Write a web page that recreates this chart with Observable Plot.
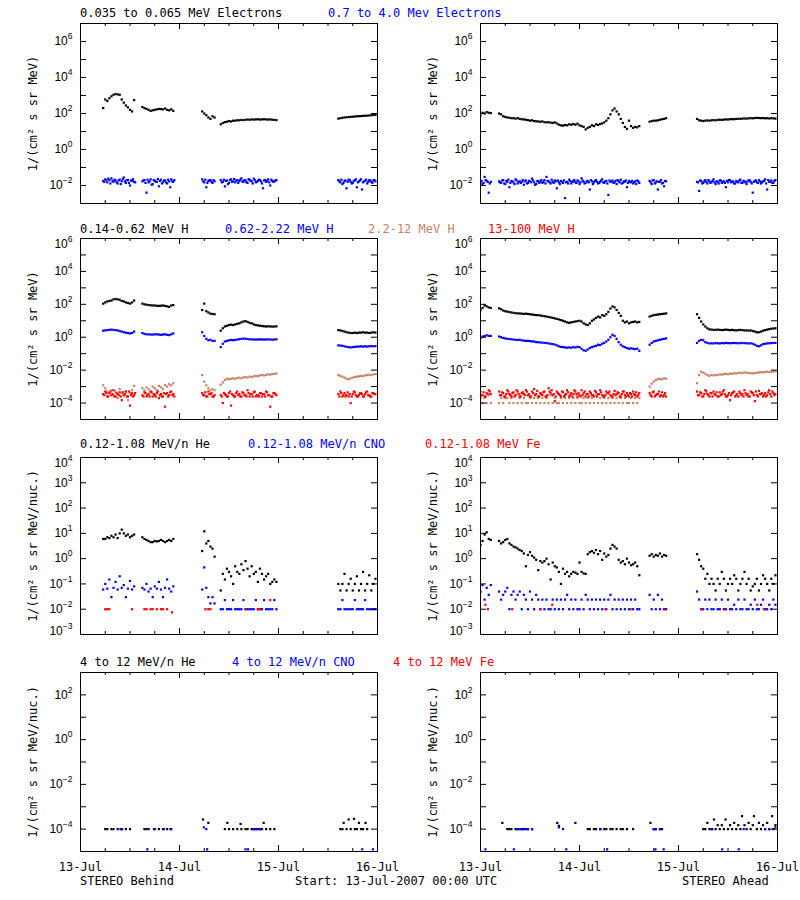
<!DOCTYPE html>
<html><head><meta charset="utf-8">
<script src="https://cdn.jsdelivr.net/npm/d3@7"></script>
<script src="https://cdn.jsdelivr.net/npm/@observablehq/plot@0.6"></script>
<style>
html,body{margin:0;padding:0;background:#fff;overflow:hidden;}
#chart{position:relative;width:800px;height:900px;background:#fff;font-family:"DejaVu Sans Mono",monospace;font-size:12px;color:#000;}
.t{position:absolute;white-space:pre;line-height:14px;font-size:12px;}
</style></head>
<body><div id="chart"></div>
<script>
// ---------- time base ----------
const T0 = Date.UTC(2007, 6, 13);           // 13-Jul-2007 00:00 UTC
const STEP = 0.5;                            // hours between samples inside a segment

// ---------- STEREO Behind : row 1 (electrons) ----------
const behindElecLo = [
  [5.5, [200, 600, 500, 700, 900, 1100, 1200, 1150, 1100, 600, 400, 280, 220, 160, 130, 550]],
  [15, [230, 200, 180, 160, 140, 150, 160, 170, 180, 175, 170, 190, 160, 150, 170, 140]],
  [29.5, [130, 100, 80, 60, 50, 70, 60]],
  [34, [25, 30, 33, 35, 38, 36, 40, 40, 42, 42, 44, 43, 45, 46, 45, 47, 46, 47, 48, 46, 47, 48, 47, 46, 47, 45, 44, 43]],
  [62.5, [52, 55, 58, 60, 62, 63, 65, 66, 68, 70, 71, 72, 74, 75, 76, 78, 80, 82, 84]]
];
const behindElecHi = [
  [5.5, [0.018, 0.022, 0.015, 0.02, 0.025, 0.016, 0.019, 0.013, 0.021, 0.017, 0.028, 0.014, 0.02, 0.01, 0.018, 0.016]],
  [15, [0.017, 0.02, 0.004, 0.015, 0.022, 0.012, 0.018, 0.016, 0.009, 0.021, 0.015, 0.019, 0.013, 0.017, 0.022, 0.016]],
  [29.5, [0.022, 0.015, 0.008, 0.018, 0.02, 0.014, 0.017]],
  [34, [0.02, 0.016, 0.009, 0.019, 0.014, 0.022, 0.017, 0.015, 0.02, 0.018, 0.025, 0.016, 0.019, 0.014, 0.021, 0.017, 0.024, 0.015, 0.018, 0.02, 0.013, 0.019, 0.016, 0.022, 0.01, 0.018, 0.017, 0.02]],
  [62.5, [0.02, 0.015, 0.012, 0.018, 0.007, 0.021, 0.016, 0.014, 0.019, 0.008, 0.017, 0.022, 0.015, 0.018, 0.013, 0.02, 0.016, 0.019, 0.017]]
];
const behindElecHiB = [
  [5.75, [0.016, 0.02, 0.024, 0.013, 0.018, 0.021, 0.015, 0.019, 0.012, 0.023, 0.017, 0.02, 0.014, 0.019, 0.022, 0.015]],
  [15.25, [0.019, 0.014, 0.021, 0.017, 0.011, 0.02, 0.016, 0.023, 0.018, 0.013, 0.019, 0.015, 0.021, 0.008, 0.017, 0.02]],
  [29.75, [0.017, 0.021, 0.014, 0.019, 0.016, 0.02]],
  [34.25, [0.015, 0.021, 0.018, 0.012, 0.02, 0.016, 0.023, 0.019, 0.014, 0.021, 0.017, 0.02, 0.015, 0.022, 0.018, 0.013, 0.02, 0.016, 0.021, 0.017, 0.007, 0.02, 0.018, 0.015, 0.021, 0.016, 0.019]],
  [62.75, [0.017, 0.021, 0.014, 0.019, 0.016, 0.02, 0.013, 0.018, 0.022, 0.015, 0.019, 0.006, 0.017, 0.021, 0.016, 0.019, 0.014, 0.02]]
];
// ---------- STEREO Behind : row 2 (protons) ----------
const behindH1 = [
  [5.5, [110, 130, 150, 160, 170, 200, 210, 200, 190, 160, 150, 130, 120, 110, 130, 170]],
  [15, [110, 100, 95, 90, 88, 85, 85, 82, 80, 82, 85, 80, 75, 70, 85, 90]],
  [29.5, [45, 110, 38, 32, 27, 26, 25]],
  [34, [2.5, 3.5, 4.5, 5, 5.5, 5.8, 5.5, 6, 6.5, 7, 8, 9, 9.5, 8.5, 7.5, 7, 6, 5.5, 5.2, 5, 4.8, 4.6, 4.5, 4.6, 4.5, 4.4, 4.5, 4.6]],
  [62.5, [2.7, 2.6, 2.4, 2.2, 2.0, 1.9, 1.8, 1.8, 1.9, 1.8, 1.9, 1.9, 2.0, 1.9, 1.9, 1.8, 1.9, 2.0, 1.9]]
];
const behindH2 = [
  [5.5, [2.5, 2.6, 2.7, 2.8, 2.9, 2.8, 2.7, 2.6, 2.4, 2.2, 2.0, 1.9, 1.8, 1.7, 1.8, 2.2]],
  [15, [1.8, 1.6, 1.5, 1.5, 1.45, 1.45, 1.5, 1.5, 1.45, 1.4, 1.45, 1.5, 1.4, 1.35, 1.5, 1.7]],
  [29.5, [2.0, 1.2, 0.8, 0.65, 0.7, 0.6, 0.6]],
  [34, [0.25, 0.4, 0.55, 0.6, 0.65, 0.68, 0.66, 0.68, 0.72, 0.76, 0.8, 0.82, 0.8, 0.78, 0.75, 0.74, 0.72, 0.73, 0.72, 0.74, 0.73, 0.72, 0.73, 0.74, 0.72, 0.71, 0.73, 0.75]],
  [62.5, [0.32, 0.31, 0.3, 0.28, 0.26, 0.25, 0.24, 0.25, 0.26, 0.27, 0.27, 0.28, 0.27, 0.28, 0.27, 0.28, 0.29, 0.28, 0.29]]
];
const behindH3 = [
  [5.5, [1.2e-3, 8e-4, 5e-4, 4e-4, 6e-4, 3e-4, 5e-4, 2e-4, 7e-4, 4e-4, 3e-4, 5e-4, 1.5e-4, 4e-4, 6e-4, 1.1e-3]],
  [15, [8e-4, 6e-4, 9e-4, 7e-4, 5e-4, 1e-3, 8e-4, 6e-4, 1.1e-3, 9e-4, 7e-4, 1.2e-3, 1e-3, 1.4e-3, 1.2e-3, 1.6e-3]],
  [29.5, [5e-3, 2e-3, 1.2e-3, 8e-4, 6e-4, 7e-4, 6e-4]],
  [34, [1.3e-3, 1.8e-3, 2.5e-3, 3e-3, 2.8e-3, 3e-3, 3.2e-3, 2.9e-3, 3.3e-3, 3.5e-3, 3.2e-3, 3.6e-3, 3.8e-3, 3.5e-3, 4e-3, 3.8e-3, 4.2e-3, 4.5e-3, 4.3e-3, 4.8e-3, 5e-3, 4.7e-3, 5.2e-3, 5.5e-3, 5.3e-3, 5.8e-3, 6e-3, 6.2e-3]],
  [62.5, [5e-3, 4.5e-3, 4e-3, 3.5e-3, 3e-3, 2.8e-3, 3.2e-3, 3.5e-3, 3.8e-3, 4e-3, 4.2e-3, 4.5e-3, 4.3e-3, 4.8e-3, 5e-3, 5.2e-3, 5e-3, 5.5e-3, 5.8e-3]]
];
const behindH4 = [
  [5.5, [3.5e-4, 5e-4, 2.5e-4, 4e-4, 3e-4, 6e-4, 2.5e-4, 3.5e-4, 4.5e-4, 1.5e-4, 3e-4, 5e-4, 2.5e-4, 7e-5, 4e-4, 3e-4]],
  [15, [3e-4, 4.5e-4, 2.5e-4, 3.5e-4, 5e-4, 2.5e-4, 3e-4, 4e-4, 2e-4, 3.5e-4, 2.5e-4, 6e-5, 4e-4, 3e-4, 5e-4, 3.5e-4]],
  [29.5, [4e-4, 3e-4, 2.5e-4, 5e-4, 3.5e-4, 2.5e-4, 3e-4]],
  [34, [3e-4, 1e-4, 3.5e-4, 2.5e-4, 4e-4, 7e-5, 3e-4, 2.5e-4, 5e-4, 3.5e-4, 2.5e-4, 4e-4, 3e-4, 6e-4, 2.5e-4, 3.5e-4, 4.5e-4, 2.5e-4, 3e-4, 4e-4, 2.5e-4, 3.5e-4, 5e-4, 3e-4, 6e-5, 2.5e-4, 4e-4, 3e-4]],
  [62.5, [3.5e-4, 5e-4, 2.5e-4, 4e-4, 3e-4, 2.5e-4, 1e-4, 3.5e-4, 4.5e-4, 2.5e-4, 3e-4, 4e-4, 2.5e-4, 3.5e-4, 5e-4, 3e-4, 2.5e-4, 4e-4, 3.5e-4]]
];
const behindH4B = [
  [5.75, [3e-4, 4e-4, 2.5e-4, 5e-4, 3.5e-4, 2.5e-4, 4e-4, 3e-4, 2.5e-4, 4.5e-4, 3.5e-4, 2.5e-4, 5e-4, 3e-4, 2.5e-4, 4e-4]],
  [15.25, [2.5e-4, 4e-4, 3e-4, 2.5e-4, 4.5e-4, 3.5e-4, 2.5e-4, 5e-4, 3e-4, 2.5e-4, 4e-4, 3.5e-4, 2.5e-4, 4.5e-4, 3e-4, 2.5e-4]],
  [29.75, [3e-4, 4.5e-4, 2.5e-4, 3.5e-4, 4e-4, 2.5e-4]],
  [34.25, [2.5e-4, 4e-4, 3e-4, 2.5e-4, 5e-4, 3.5e-4, 2.5e-4, 4e-4, 3e-4, 2.5e-4, 4.5e-4, 3e-4, 2.5e-4, 4e-4, 3.5e-4, 2.5e-4, 5e-4, 3e-4, 2.5e-4, 4e-4, 3.5e-4, 2.5e-4, 4.5e-4, 3e-4, 2.5e-4, 4e-4, 3.5e-4]],
  [62.75, [2.5e-4, 4e-4, 3e-4, 2.5e-4, 4.5e-4, 3.5e-4, 2.5e-4, 5e-4, 3e-4, 2.5e-4, 4e-4, 3.5e-4, 2.5e-4, 4.5e-4, 3e-4, 2.5e-4, 4e-4, 3.5e-4]]
];
// ---------- STEREO Behind : row 3 (0.12-1.08 MeV/n ions) ----------
const behindLoHe = [
  [5.5, [6, 6, 7, 6.5, 8, 7, 9, 6.5, 10, 14, 10, 8, 9, 7, 8, 9]],
  [15, [7, 6, 5.5, 5, 4.5, 4.5, 5, 4.8, 5, 5.5, 5, 4.5, 5, 5.5, 5, 6]],
  [29.5, [2, 12, 4, 5, 3, 2.5, 1.2]],
  [34, [0.055, 0.25, 0.15, 0.4, 0.3, 0.2, 0.1, 0.5, 0.3, 0.25, 0.6, 0.35, 0.8, 0.4, 0.2, 0.5, 0.25, 0.3, 0.12, 0.4, 0.25, 0.15, 0.2, 0.25, 0.1, 0.12, 0.15, 0.12]],
  [62.5, [0.1, 0.055, 0.1, 0.25, 0.055, 0.1, 0.16, 0.055, 0.1, 0.2, 0.055, 0.1, 0.3, 0.055, 0.1, 0.22, 0.055, 0.1, 0.16]]
];
const behindLoCNO = [
  [5.5, [0.06, 0.1, 0.065, 0.15, 0.03, 0.07, 0.12, 0.06, 0.2, 0.07, 0.09, 0.03, 0.065, 0.13, 0.06, 0.08]],
  [15, [0.07, 0.06, 0.1, 0.05, 0.065, 0.03, 0.08, 0.065, 0.12, 0.06, 0.03, 0.07, 0.15, 0.065, 0.05, 0.08]],
  [29.5, [0.06, 0.45, 0.07, 0.03, 0.017, 0.03, 0.017]],
  [34, [0.01, 0.01, 0.023, 0.01, 0.01, 0.01, 0.023, 0.01, 0.01, 0.01, 0.01, 0.023, 0.01, 0.01, 0.01, 0.01, 0.01, 0.023, 0.01, 0.01, 0.01, 0.023, 0.01, 0.01, 0.01, 0.01, 0.023, 0.01]],
  [62.5, [0.01, 0.01, 0.023, 0.01, 0.01, 0.01, 0.01, 0.01, 0.023, 0.01, 0.01, 0.01, 0.01, 0.023, 0.01, 0.01, 0.01, 0.01, 0.01]]
];
const behindLoFe = [[6, 0.01], [6.5, 0.01], [7, 0.01], [12.5, 0.01], [15.5, 0.01], [16, 0.01], [17, 0.01], [17.5, 0.01], [18.5, 0.01], [19.5, 0.01], [20, 0.01], [21, 0.01], [22.2, 0.0075], [30.3, 0.01], [31, 0.01], [31.5, 0.01], [40, 0.01], [43, 0.01], [43.5, 0.01], [46, 0.023]];
// ---------- STEREO Behind : row 4 (4-12 MeV/n ions) ----------
const behindHiHe = [[6, 1e-4], [6.5, 1e-4], [7.5, 1e-4], [8, 1e-4], [9, 1e-4], [10, 1e-4], [11, 1e-4], [12, 1e-4], [15.5, 1e-4], [16, 1e-4], [16.5, 1e-4], [18, 1e-4], [19, 1e-4], [20, 1e-4], [21, 1e-4], [22, 1e-4], [29.7, 2.7e-4], [31, 1.9e-4], [35, 1e-4], [35.6, 1.9e-4], [36, 1e-4], [37, 1e-4], [38, 1e-4], [38.8, 1.7e-4], [39, 1e-4], [40, 1e-4], [40.5, 1e-4], [41.5, 1e-4], [42, 1e-4], [42.5, 1e-4], [43.5, 1e-4], [44, 1e-4], [44.4, 1.9e-4], [45, 1e-4], [46, 1e-4], [47, 1e-4], [63, 1e-4], [63.5, 1e-4], [63.8, 1.9e-4], [64.5, 1e-4], [65, 2.7e-4], [65.5, 1e-4], [66.3, 2.9e-4], [66.5, 1e-4], [67, 1e-4], [67.5, 1.9e-4], [68, 1e-4], [68.5, 1e-4], [69.1, 1.9e-4], [69.5, 1e-4]];
const behindHiCNO = [[9.7, 1e-4], [10.1, 1e-4], [17.8, 1e-4], [20.2, 1e-4], [21.8, 1e-4], [42, 1e-4], [42.5, 1e-4], [43, 1e-4], [43.5, 1e-4], [29.9, 1.2e-4], [30.5, 1e-4], [16.2, 1.25e-5], [30.7, 1.25e-5], [40, 1.25e-5], [40.6, 1.25e-5], [68.3, 1.25e-5], [70.9, 1.25e-5]];
const behindHiFe = [];

// ---------- STEREO Ahead : row 1 ----------
const aheadElecLo = [
  [0, [80, 110, 100, 120, 110, 105]],
  [4.5, [100, 90, 70, 65, 60, 58, 55, 55, 52, 55,
         50, 48, 47, 45, 43, 40, 42, 38, 37, 36,
         35, 36, 33, 32, 33, 31, 30, 32, 28, 24,
         22, 21, 23, 22, 25, 24, 26, 24, 27, 22,
         20, 18, 13, 16, 18, 22, 20, 25, 23, 26,
         28, 32, 40, 55, 90, 150, 190, 130, 90, 50,
         30, 18, 14, 40, 20, 16, 18, 17, 20]],
  [41, [35, 38, 40, 40, 42, 45, 48, 50, 55]],
  [52.5, [50, 42, 40, 38, 40, 41, 40, 42, 43, 42,
          44, 45, 44, 46, 47, 46, 48, 49, 48, 50,
          51, 50, 52, 53, 52, 54, 55, 54, 56, 57,
          56, 55, 56, 54, 55, 53, 55, 54, 52]]
];
const aheadElecHi = [
  [0, [0.015, 0.012, 0.03, 0.018, 0.004, 0.016]],
  [4.5, [0.017, 0.014, 0.02, 0.012, 0.016, 0.008, 0.018, 0.015, 0.022, 0.013,
         0.017, 0.016, 0.011, 0.019, 0.014, 0.017, 0.024, 0.015, 0.012, 0.018,
         0.016, 0.014, 0.02, 0.03, 0.017, 0.013, 0.016, 0.019, 0.007, 0.015,
         0.018, 0.014, 0.002, 0.016, 0.021, 0.013, 0.017, 0.015, 0.019, 0.012,
         0.025, 0.016, 0.014, 0.018, 0.006, 0.017, 0.015, 0.02, 0.013, 0.016,
         0.022, 0.014, 0.018, 0.003, 0.016, 0.019, 0.015, 0.012, 0.017, 0.021,
         0.014, 0.016, 0.008, 0.018, 0.015, 0.013, 0.017, 0.019, 0.014]],
  [41, [0.018, 0.012, 0.02, 0.015, 0.006, 0.016, 0.013, 0.009, 0.017]],
  [52.5, [0.016, 0.005, 0.018, 0.014, 0.02, 0.013, 0.017, 0.015, 0.022, 0.012,
          0.016, 0.019, 0.014, 0.017, 0.008, 0.015, 0.02, 0.016, 0.013, 0.018,
          0.015, 0.021, 0.014, 0.017, 0.012, 0.019, 0.016, 0.004, 0.018, 0.015,
          0.02, 0.013, 0.017, 0.022, 0.006, 0.016, 0.019, 0.014, 0.02]]
];
const aheadElecHiB = [
  [0.25, [0.018, 0.014, 0.02, 0.016, 0.013]],
  [4.75, [0.015, 0.019, 0.013, 0.018, 0.021, 0.014, 0.017, 0.012, 0.019, 0.016,
          0.014, 0.02, 0.017, 0.013, 0.018, 0.015, 0.019, 0.011, 0.017, 0.014,
          0.02, 0.016, 0.013, 0.018, 0.015, 0.021, 0.014, 0.017, 0.019, 0.012,
          0.016, 0.019, 0.015, 0.013, 0.018, 0.016, 0.02, 0.014, 0.017, 0.015,
          0.019, 0.013, 0.017, 0.015, 0.02, 0.012, 0.018, 0.016, 0.014, 0.019,
          0.015, 0.017, 0.013, 0.019, 0.016, 0.014, 0.018, 0.02, 0.015, 0.013,
          0.017, 0.019, 0.014, 0.016, 0.018, 0.015, 0.012, 0.017]],
  [41.25, [0.015, 0.019, 0.013, 0.017, 0.016, 0.02, 0.014, 0.018]],
  [52.75, [0.015, 0.019, 0.013, 0.017, 0.016, 0.02, 0.014, 0.018, 0.015, 0.017,
           0.013, 0.019, 0.016, 0.014, 0.018, 0.02, 0.015, 0.017, 0.013, 0.016,
           0.019, 0.014, 0.018, 0.015, 0.017, 0.02, 0.013, 0.016, 0.019, 0.014,
           0.017, 0.015, 0.018, 0.013, 0.02, 0.016, 0.014, 0.018]]
];
// ---------- STEREO Ahead : row 2 ----------
const aheadH1 = [
  [0, [45, 60, 85, 75, 65, 60]],
  [4.5, [57, 50, 42, 38, 36, 34, 32, 30, 29, 28,
         28, 27, 26, 27, 26, 25, 24, 23, 22, 22,
         21, 20, 19, 18, 17, 16, 15, 14, 13, 12,
         11, 10, 9, 8, 7.5, 8, 8.5, 9, 9.5, 10,
         9, 7, 6, 5.5, 7, 10, 12, 15, 18, 16,
         22, 20, 25, 35, 55, 75, 65, 45, 30, 20,
         10, 8, 9, 7, 8, 8.5, 9, 8, 8.5]],
  [41, [18, 20, 22, 23, 24, 25, 26, 27, 28]],
  [52.5, [25, 15, 9, 6, 4.5, 3.5, 3, 2.9, 2.8, 2.8,
          2.9, 2.8, 2.7, 2.8, 2.9, 2.8, 2.7, 2.8, 2.7, 2.6,
          2.7, 2.8, 2.7, 2.6, 2.6, 2.5, 2.6, 2.4, 2.2, 2.0,
          2.0, 2.2, 2.5, 2.7, 2.9, 3.1, 3.3, 3.4, 3.5]]
];
const aheadH2 = [
  [0, [0.9, 1.1, 1.2, 1.3, 1.2, 1.2]],
  [4.5, [1.1, 1.0, 0.9, 0.85, 0.8, 0.78, 0.75, 0.72, 0.7, 0.68,
         0.7, 0.65, 0.62, 0.6, 0.6, 0.58, 0.55, 0.55, 0.5, 0.5,
         0.48, 0.47, 0.45, 0.45, 0.42, 0.4, 0.38, 0.36, 0.32, 0.28,
         0.26, 0.25, 0.24, 0.23, 0.24, 0.23, 0.25, 0.24, 0.26, 0.25,
         0.2, 0.16, 0.15, 0.18, 0.22, 0.25, 0.28, 0.3, 0.35, 0.33,
         0.4, 0.45, 0.55, 0.7, 1.0, 1.4, 1.2, 0.8, 0.5, 0.35,
         0.28, 0.25, 0.22, 0.2, 0.21, 0.2, 0.19, 0.2, 0.15]],
  [41, [0.35, 0.45, 0.55, 0.6, 0.65, 0.7, 0.75, 0.8, 0.85]],
  [52.5, [0.45, 0.6, 0.7, 0.65, 0.5, 0.45, 0.42, 0.43, 0.42, 0.44,
          0.43, 0.42, 0.44, 0.43, 0.45, 0.44, 0.43, 0.44, 0.45, 0.44,
          0.43, 0.44, 0.45, 0.44, 0.43, 0.42, 0.43, 0.4, 0.35, 0.3,
          0.28, 0.32, 0.38, 0.4, 0.42, 0.43, 0.44, 0.45, 0.45]]
];
const aheadH3 = [
  [0, [2e-4, 1e-4, 2e-4, 1e-4, 3e-4, 1e-4]],
  [4.5, [1e-4, 2e-4, 1e-4, 2e-4, 2e-4, 1e-4, 2e-4, 1e-4, 3e-4, 1e-4,
         2e-4, 1e-4, 2e-4, 1e-4, 1e-4, 2e-4, 1e-4, 2e-4, 1e-4, 2e-4,
         1e-4, 2e-4, 1e-4, 2e-4, 1e-4, 3e-4, 1e-4, 2e-4, 1e-4, 1e-4,
         2e-4, 1e-4, 2e-4, 1e-4, 2e-4, 1e-4, 2e-4, 1e-4, 2e-4, 1e-4,
         1e-4, 2e-4, 1e-4, 2e-4, 1e-4, 2e-4, 1e-4, 3e-4, 1e-4, 2e-4,
         1e-4, 2e-4, 1e-4, 2e-4, 1e-4, 2e-4, 1e-4, 2e-4, 1e-4, 2e-4,
         1e-4, 2e-4, 1e-4, 1e-4, 2e-4, 1e-4, 2e-4, 1e-4, 2e-4]],
  [41, [1e-3, 1.5e-3, 2e-3, 2.5e-3, 2.8e-3, 3e-3, 2.7e-3, 3.2e-3, 3e-3]],
  [52.5, [1.6e-3, 5e-3, 8e-3, 7e-3, 6e-3, 5e-3, 4.5e-3, 5e-3, 4.8e-3, 5.2e-3,
          5e-3, 5.5e-3, 5.3e-3, 5.8e-3, 6e-3, 5.6e-3, 6.2e-3, 6e-3, 6.5e-3, 6.3e-3,
          6.8e-3, 7e-3, 6.6e-3, 7.2e-3, 7e-3, 6.8e-3, 6.5e-3, 6.3e-3, 6.6e-3, 7e-3,
          7.2e-3, 7.5e-3, 7.3e-3, 7.8e-3, 8e-3, 7.6e-3, 8.2e-3, 8e-3, 8.5e-3]]
];
const aheadH4 = [
  [0, [5e-4, 3e-4, 2.5e-4, 4e-4, 6e-4, 3.5e-4]],
  [4.5, [5e-4, 3e-4, 4e-4, 2.5e-4, 6e-4, 3.5e-4, 2.5e-4, 4.5e-4, 3e-4, 5e-4,
         2.5e-4, 4e-4, 3.5e-4, 6e-4, 3e-4, 2.5e-4, 5e-4, 7e-4, 3.5e-4, 2.5e-4,
         4e-4, 3e-4, 5e-4, 2.5e-4, 8e-4, 4e-4, 3e-4, 1.3e-4, 5e-4, 3.5e-4,
         2.5e-4, 4.5e-4, 3e-4, 6e-4, 2.5e-4, 4e-4, 3.5e-4, 5e-4, 2.5e-4, 3e-4,
         6e-4, 4e-4, 2.5e-4, 3.5e-4, 5e-4, 3e-4, 2.5e-4, 4.5e-4, 3.5e-4, 6e-4,
         3e-4, 2.5e-4, 5e-4, 4e-4, 3e-4, 2.5e-4, 5.5e-4, 3.5e-4, 4e-4, 2.5e-4,
         5e-4, 3e-4, 4e-4, 2.5e-4, 3.5e-4, 5e-4, 3e-4, 2.5e-4, 4e-4]],
  [41, [4e-4, 2.5e-4, 5e-4, 3e-4, 3.5e-4, 2.5e-4, 4.5e-4, 3e-4, 2.5e-4]],
  [52.5, [5e-4, 3e-4, 4e-4, 2.5e-4, 6e-4, 3.5e-4, 2.5e-4, 4e-4, 5e-4, 3e-4,
          2.5e-4, 4.5e-4, 3.5e-4, 6e-4, 2.5e-4, 3e-4, 1.5e-4, 4e-4, 5e-4, 3e-4,
          2.5e-4, 4e-4, 3.5e-4, 6e-4, 3e-4, 2.5e-4, 5e-4, 4e-4, 1.3e-4, 3e-4,
          5.5e-4, 3.5e-4, 2.5e-4, 4e-4, 3e-4, 6e-4, 2.5e-4, 4e-4, 3.5e-4]]
];
const aheadH4B = [
  [0.25, [3e-4, 4.5e-4, 2.5e-4, 3.5e-4, 5e-4]],
  [4.75, [3e-4, 4.5e-4, 2.5e-4, 3.5e-4, 5e-4, 3e-4, 4e-4, 2.5e-4, 6e-4, 3.5e-4,
          2.5e-4, 4.5e-4, 3e-4, 5e-4, 3.5e-4, 2.5e-4, 4e-4, 3e-4, 5.5e-4, 2.5e-4,
          3.5e-4, 4.5e-4, 2.5e-4, 3e-4, 5e-4, 6e-4, 3.5e-4, 2.5e-4, 4e-4, 3e-4,
          5e-4, 2.5e-4, 3.5e-4, 4.5e-4, 3e-4, 2.5e-4, 6e-4, 3.5e-4, 4e-4, 2.5e-4,
          3e-4, 5e-4, 3.5e-4, 2.5e-4, 4e-4, 3e-4, 5.5e-4, 2.5e-4, 3.5e-4, 4.5e-4,
          2.5e-4, 3e-4, 4e-4, 5e-4, 2.5e-4, 3.5e-4, 3e-4, 4.5e-4, 2.5e-4, 3.5e-4,
          5e-4, 2.5e-4, 3e-4, 4e-4, 2.5e-4, 3.5e-4, 4.5e-4, 3e-4]],
  [41.25, [3e-4, 4.5e-4, 2.5e-4, 3.5e-4, 5e-4, 3e-4, 2.5e-4, 4e-4]],
  [52.75, [3e-4, 4.5e-4, 2.5e-4, 3.5e-4, 5e-4, 3e-4, 4e-4, 2.5e-4, 3.5e-4, 4.5e-4,
           2.5e-4, 3e-4, 5e-4, 3.5e-4, 2.5e-4, 4e-4, 3e-4, 4.5e-4, 2.5e-4, 3.5e-4,
           5e-4, 3e-4, 2.5e-4, 4e-4, 3.5e-4, 2.5e-4, 4.5e-4, 3e-4, 5e-4, 2.5e-4,
           3.5e-4, 4e-4, 3e-4, 2.5e-4, 4.5e-4, 3.5e-4, 5e-4, 3e-4]]
];
// ---------- STEREO Ahead : row 3 ----------
const aheadLoHe = [
  [0, [3.5, 5, 9, 11, 6, 5.5]],
  [4.5, [5, 4, 4.5, 5.5, 6, 4, 3.5, 3, 2.8, 2.5,
         2.2, 2, 1.6, 0.5, 1.4, 1.8, 1.3, 1.1, 0.9, 0.35,
         0.8, 0.7, 0.8, 1, 0.6, 0.15, 0.7, 0.5, 0.45, 0.3,
         0.1, 0.4, 0.25, 0.3, 0.2, 0.25, 0.3, 0.28, 0.25, 0.7,
         0.3, 0.26, 0.25, 1.5, 1.8, 2, 1.7, 2.2, 1.5, 2,
         0.9, 1.6, 1.2, 1.4, 2.5, 3.5, 3, 2.5, 0.9, 0.7,
         0.8, 0.6, 1, 0.7, 0.55, 0.6, 0.7, 0.5, 0.22]],
  [41, [1.3, 1.5, 1.2, 1.4, 1.3, 1.6, 1.2, 1.4, 1.3]],
  [52.5, [1.5, 0.9, 0.5, 0.4, 0.16, 0.25, 0.1, 0.16, 0.1, 0.055,
          0.16, 0.1, 0.3, 0.16, 0.055, 0.1, 0.16, 0.1, 0.22, 0.16,
          0.055, 0.1, 0.16, 0.3, 0.1, 0.16, 0.055, 0.08, 0.1, 0.16,
          0.055, 0.1, 0.22, 0.16, 0.1, 0.055, 0.16, 0.1, 0.22]]
];
const aheadLoCNO = [
  [0, [0.05, 0.09, 0.024, 0.07, 0.037, 0.09]],
  [4.5, [0.05, 0.024, 0.037, 0.05, 0.07, 0.01, 0.037, 0.05, 0.024, 0.037,
         0.05, 0.01, 0.037, 0.024, 0.01, 0.05, 0.024, 0.01, 0.037, 0.024,
         0.01, 0.024, 0.01, 0.024, 0.01, 0.01, 0.024, 0.01, 0.024, 0.01,
         0.024, 0.01, 0.024, 0.037, 0.01, 0.024, 0.01, 0.024, 0.01, 0.01,
         0.024, 0.01, 0.037, 0.024, 0.01, 0.024, 0.01, 0.024, 0.01, 0.024,
         0.01, 0.024, 0.01, 0.024, 0.037, 0.01, 0.024, 0.01, 0.024, 0.01,
         0.024, 0.01, 0.024, 0.01, 0.024, 0.01, 0.024, 0.01, 0.01]],
  [41, [0.037, 0.01, 0.024, 0.01, 0.037, 0.01, 0.024, 0.01, 0.01]],
  [52.5, [0.05, 0.024, 0.01, 0.01, 0.024, 0.01, 0.024, 0.01, 0.01, 0.024,
          0.01, 0.01, 0.024, 0.01, 0.01, 0.024, 0.01, 0.01, 0.015, 0.01,
          0.024, 0.01, 0.01, 0.024, 0.01, 0.01, 0.015, 0.01, 0.024, 0.01,
          0.01, 0.015, 0.024, 0.01, 0.01, 0.015, 0.01, 0.024, 0.015]]
];
const aheadLoFe = [[1.2, 0.015], [1.8, 0.01], [7.7, 0.01], [14.5, 0.01], [17.4, 0.015], [30.3, 0.01], [36.4, 0.01], [44.4, 0.01], [53.7, 0.01], [59.4, 0.01], [67.1, 0.015], [68.7, 0.01]];
// ---------- STEREO Ahead : row 4 ----------
const aheadHiHe = [[5.3, 1.9e-4], [6.5, 1e-4], [7, 1e-4], [7.5, 1e-4], [8.5, 1e-4], [9, 1e-4], [10, 1e-4], [10.5, 1e-4], [11.5, 1e-4], [12.5, 1e-4], [18.6, 1.9e-4], [19, 1.4e-4], [23, 1.9e-4], [26, 1e-4], [26.5, 1e-4], [27.5, 1e-4], [28, 1e-4], [29, 1e-4], [30, 1e-4], [30.5, 1e-4], [31.5, 1e-4], [32, 1e-4], [33, 1e-4], [34, 1e-4], [34.5, 1e-4], [35.5, 1e-4], [37, 1e-4], [41.2, 1.9e-4], [42, 1e-4], [42.5, 1e-4], [43.5, 1e-4], [44, 1e-4], [54, 1e-4], [54.5, 1e-4], [55, 1.9e-4], [55.5, 1e-4], [56, 1e-4], [56.6, 2.7e-4], [57, 1e-4], [57.5, 1.5e-4], [58, 1e-4], [58.5, 1.5e-4], [59, 1e-4], [59.4, 2.7e-4], [60, 1e-4], [60.5, 1.5e-4], [61, 1e-4], [61.5, 1.9e-4], [62, 1e-4], [62.5, 1.5e-4], [63, 1e-4], [63.4, 3.8e-4], [64, 1.5e-4], [64.5, 1e-4], [65, 1.9e-4], [65.5, 1e-4], [66, 1.5e-4], [66.3, 3.8e-4], [67, 1e-4], [67.5, 1.9e-4], [68, 1e-4], [68.5, 1.5e-4], [69, 1e-4], [69.5, 1.9e-4], [70, 1e-4], [70.7, 3.8e-4], [71, 1e-4], [71.5, 1.5e-4]];
const aheadHiCNO = [[9, 1e-4], [9.5, 1e-4], [10, 1e-4], [11, 1e-4], [11.5, 1e-4], [12.5, 1e-4], [19, 1.2e-4], [20, 1e-4], [29.1, 1e-4], [42, 1e-4], [42.5, 1e-4], [43.5, 1e-4], [56.2, 1e-4], [63.8, 1e-4], [69, 1e-4], [70, 1e-4], [71.5, 1.2e-4], [1.2, 1.25e-5], [8.1, 1.25e-5], [20.8, 1.25e-5], [30.7, 1.25e-5], [42.4, 1.25e-5], [44.4, 1.25e-5], [58.6, 1.25e-5], [62.6, 1.25e-5]];
const aheadHiFe = [];

// ---------- texts ----------
const rowTitles = [
  ["0.035 to 0.065 MeV Electrons", "0.7 to 4.0 Mev Electrons"],
  ["0.14-0.62 MeV H", "0.62-2.22 MeV H", "2.2-12 MeV H", "13-100 MeV H"],
  ["0.12-1.08 MeV/n He", "0.12-1.08 MeV/n CNO", "0.12-1.08 MeV Fe"],
  ["4 to 12 MeV/n He", "4 to 12 MeV/n CNO", "4 to 12 MeV Fe"]
];
const yTitles = ["1/(cm\u00b2 s sr MeV)", "1/(cm\u00b2 s sr MeV)", "1/(cm\u00b2 s sr MeV/nuc.)", "1/(cm\u00b2 s sr MeV/nuc.)"];
const footer = ["STEREO Behind", "Start: 13-Jul-2007 00:00 UTC", "STEREO Ahead"];
const dayTickHours = [0, 24, 48, 72];
const minorTickHours = [6, 12, 18, 30, 36, 42, 54, 60, 66];
const midDayHours = [24, 48];
const rowDomains = [[1e-3, 1e7], [1e-5, 1e6], [1e-3, 1e4], [1e-5, 1e3]];
const rowLabelExps = [[-2, 0, 2, 4, 6], [-4, -2, 0, 2, 4, 6], [-3, -2, -1, 0, 1, 2, 3, 4], [-4, -2, 0, 2]];

// ---------- layout / style ----------
const BLACK = "#000000", BLUE = "#0000ff", TAN = "#c98468", RED = "#ff0000";
const rowColors = [[BLACK, BLUE], [BLACK, BLUE, TAN, RED], [BLACK, BLUE, RED], [BLACK, BLUE, RED]];
const rowsGeom = [{top: 23, h: 180, titleY: 13}, {top: 238, h: 181, titleY: 229}, {top: 457, h: 177, titleY: 444}, {top: 672, h: 179, titleY: 662}];
const colLeft = [80, 480];
const titleX = [[80, 328], [80, 225, 368, 488], [80, 248, 425], [80, 232, 393]];
const FW = 297;

const toDate = h => new Date(T0 + h * 3600e3);
function fromSegments(segs) {
  const out = [];
  for (const [t0, vals] of segs) vals.forEach((v, i) => { if (v != null) out.push({t: toDate(t0 + i * STEP), v}); });
  return out;
}
const fromPairs = pairs => pairs.map(([h, v]) => ({t: toDate(h), v}));
const S = (data, color) => ({data, color});

const panels = [
  [[S(fromSegments(behindElecLo), BLACK), S(fromSegments(behindElecHi), BLUE), S(fromSegments(behindElecHiB), BLUE)],
   [S(fromSegments(aheadElecLo), BLACK), S(fromSegments(aheadElecHi), BLUE), S(fromSegments(aheadElecHiB), BLUE)]],
  [[S(fromSegments(behindH1), BLACK), S(fromSegments(behindH2), BLUE), S(fromSegments(behindH3), TAN), S(fromSegments(behindH4), RED), S(fromSegments(behindH4B), RED)],
   [S(fromSegments(aheadH1), BLACK), S(fromSegments(aheadH2), BLUE), S(fromSegments(aheadH3), TAN), S(fromSegments(aheadH4), RED), S(fromSegments(aheadH4B), RED)]],
  [[S(fromSegments(behindLoHe), BLACK), S(fromSegments(behindLoCNO), BLUE), S(fromPairs(behindLoFe), RED)],
   [S(fromSegments(aheadLoHe), BLACK), S(fromSegments(aheadLoCNO), BLUE), S(fromPairs(aheadLoFe), RED)]],
  [[S(fromPairs(behindHiHe), BLACK), S(fromPairs(behindHiCNO), BLUE), S(fromPairs(behindHiFe), RED)],
   [S(fromPairs(aheadHiHe), BLACK), S(fromPairs(aheadHiCNO), BLUE), S(fromPairs(aheadHiFe), RED)]]
];

const chart = document.getElementById("chart");
const SVGNS = "http://www.w3.org/2000/svg";

function addText(x, cy, color, txt) {
  const d = document.createElement("div");
  d.className = "t";
  d.style.left = x + "px";
  d.style.top = (cy - 6.8) + "px";
  d.style.color = color;
  d.textContent = txt;
  chart.appendChild(d);
}

function decades(dom) {
  const out = [];
  for (let e = Math.round(Math.log10(dom[0])); e <= Math.round(Math.log10(dom[1])); e++) out.push(Math.pow(10, e));
  return out;
}
const fmtExp = d => "10^" + Math.round(Math.log10(d));

rowsGeom.forEach((g, r) => {
  rowTitles[r].forEach((txt, k) => addText(titleX[r][k], g.titleY, rowColors[r][k], txt));
  const showX = r === 3;
  const ml = 80, mr = 22, mt = 4, mb = showX ? 30 : 4;
  const yDom = rowDomains[r];
  const yTickVals = decades(yDom);
  const yLabelVals = rowLabelExps[r].map(e => Math.pow(10, e));
  const isTop = d => Math.abs(Math.log10(d) - Math.log10(yDom[1])) < 1e-6;
  const isBot = d => Math.abs(Math.log10(d) - Math.log10(yDom[0])) < 1e-6;
  const inner = yLabelVals.filter(d => !isTop(d) && !isBot(d));
  const topL = yLabelVals.filter(isTop), botL = yLabelVals.filter(isBot);
  const axisOpts = {tickFormat: fmtExp, tickSize: 0, tickPadding: 8, label: null, fontSize: 12, fontFamily: "Liberation Sans", fill: BLACK};
  for (let c = 0; c < 2; c++) {
    const series = panels[r][c];
    const marks = [
      ...series.map(s => Plot.dot(s.data, {x: "t", y: "v", fill: s.color, r: 1.25, symbol: "square", clip: true})),
      Plot.frame({stroke: BLACK, strokeWidth: 1}),
      Plot.tickY(yTickVals, {y: d => d, stroke: BLACK, insetRight: FW - 6}),
      Plot.tickY(yTickVals, {y: d => d, stroke: BLACK, insetLeft: FW - 6}),
      Plot.tickX(minorTickHours.map(toDate), {x: d => d, stroke: BLACK, insetTop: g.h - 3}),
      Plot.tickX(minorTickHours.map(toDate), {x: d => d, stroke: BLACK, insetBottom: g.h - 3}),
      Plot.tickX(midDayHours.map(toDate), {x: d => d, stroke: BLACK, insetTop: g.h - 6}),
      Plot.tickX(midDayHours.map(toDate), {x: d => d, stroke: BLACK, insetBottom: g.h - 6}),
      Plot.axisY({...axisOpts, ticks: inner}),
      Plot.text([yTitles[r]], {text: d => d, frameAnchor: "left", rotate: -90, dx: -47, textAnchor: "middle", fontSize: 12, fontFamily: "DejaVu Sans Mono", fill: BLACK})
    ];
    if (topL.length) marks.push(Plot.axisY({...axisOpts, ticks: topL, dy: 5.5}));
    if (botL.length) marks.push(Plot.axisY({...axisOpts, ticks: botL, dy: -3.5}));
    if (showX) marks.push(Plot.axisX({ticks: dayTickHours.map(toDate), tickFormat: d3.utcFormat("%d-%b"), tickSize: 0, tickPadding: 11, label: null, fontSize: 12, fontFamily: "DejaVu Sans Mono", fill: BLACK}));
    const svg = Plot.plot({
      width: ml + FW + mr, height: mt + g.h + mb,
      marginLeft: ml, marginRight: mr, marginTop: mt, marginBottom: mb,
      x: {type: "utc", domain: [toDate(0), toDate(72)], axis: showX ? undefined : null},
      y: {type: "log", domain: yDom},
      style: {background: "transparent", color: BLACK, overflow: "visible", fontFamily: "DejaVu Sans Mono", fontSize: "12px"},
      marks
    });
    svg.querySelectorAll("text").forEach(el => {
      const m = /^10\^(-?\d+)$/.exec(el.textContent);
      if (m) {
        el.textContent = "10";
        const ts = document.createElementNS(SVGNS, "tspan");
        ts.setAttribute("dy", "-6");
        ts.setAttribute("font-size", "8.5");
        ts.textContent = m[1].replace("-", "\u2212");
        el.appendChild(ts);
      }
    });
    svg.style.position = "absolute";
    svg.style.left = (colLeft[c] - ml) + "px";
    svg.style.top = (g.top - mt) + "px";
    chart.appendChild(svg);
  }
});

addText(80, 880.5, BLACK, footer[0]);
addText(295, 880.5, BLACK, footer[1]);
addText(682, 880.5, BLACK, footer[2]);
</script>
</body></html>
